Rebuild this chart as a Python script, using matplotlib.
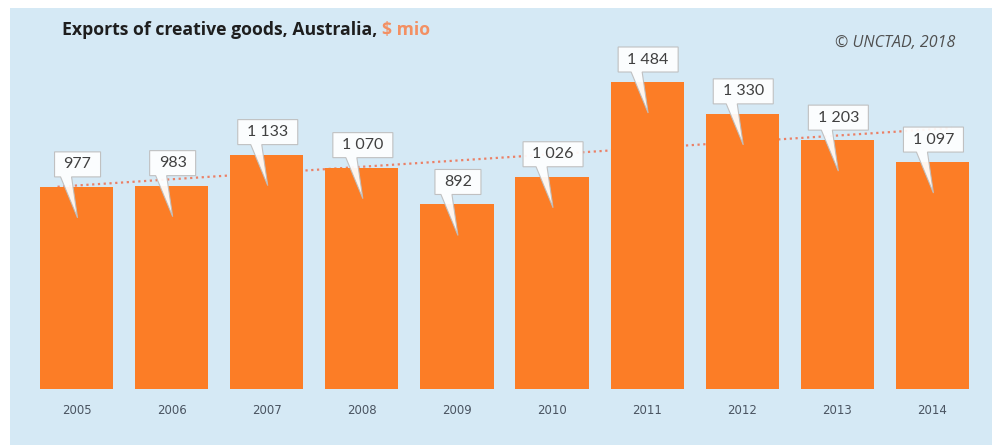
import numpy as np
import matplotlib
matplotlib.use("Agg")
import matplotlib.pyplot as plt
import matplotlib.transforms as mtransforms
from matplotlib.patches import Polygon, Rectangle

# Exports of creative goods, Australia ($ million)
years = ["2005", "2006", "2007", "2008", "2009",
         "2010", "2011", "2012", "2013", "2014"]
exports = [977, 983, 1133, 1070, 892, 1026, 1484, 1330, 1203, 1097]

BAR_COLOR = "#FC7D26"
PANEL_COLOR = "#D5E9F5"
TREND_COLOR = "#EB8066"

W, H = 999, 445
fig = plt.figure(figsize=(W / 100, H / 100), dpi=100)
fig.patch.set_facecolor("white")

# light blue backdrop panel
fig.patches.append(Rectangle((10 / W, 0), 982 / W, (H - 8) / H,
                             transform=fig.transFigure, facecolor=PANEL_COLOR,
                             edgecolor="none", zorder=-5))

ax_left, ax_right = 29 / W, 980 / W
ax_bottom = (H - 389) / H
ymax = 1650
ax_height = ymax * (307 / 1484) / H
ax = fig.add_axes([ax_left, ax_bottom, ax_right - ax_left, ax_height])
ax.set_zorder(2)
ax.set_facecolor("none")
ax.set_xlim(-0.5, len(years) - 0.5)
ax.set_ylim(0, ymax)
for s in ax.spines.values():
    s.set_visible(False)
ax.set_yticks([])
x = np.arange(len(years))
ax.set_xticks(x)
ax.set_xticklabels(years, fontsize=8.5, color="#4A5461", family="DejaVu Sans")
ax.tick_params(axis="x", length=0, pad=11)

# linear trend, drawn behind the bars
coef = np.polyfit(x, exports, 1)
tx = np.array([-0.2, len(years) - 1 + 0.2])
ax.plot(tx, np.polyval(coef, tx), color=TREND_COLOR, lw=1.6,
        ls=(0, (1, 1.6)), zorder=1)

ax.bar(x, exports, width=0.77, color=BAR_COLOR, zorder=2)

# callout labels (shapes defined in pixels relative to each bar top)
for xi, v in zip(x, exports):
    label = f"{v:,}".replace(",", " ")
    half = 23 if len(label) <= 3 else 30
    cx = 1
    bot, top = 10, 35
    pts = [(cx - half, bot), (cx - half, top), (cx + half, top),
           (cx + half, bot), (-5, bot), (1, -31), (-16, bot)]
    pts = [(px / 100, py / 100) for px, py in pts]
    tr = fig.dpi_scale_trans + mtransforms.ScaledTranslation(xi, v, ax.transData)
    ax.add_patch(Polygon(pts, closed=True, transform=tr, facecolor="white",
                         edgecolor="#BDBDBD", lw=0.8, alpha=0.93,
                         zorder=3, clip_on=False))
    ttr = mtransforms.offset_copy(ax.transData, fig=fig, x=cx, y=(bot + top) / 2,
                                  units="dots")
    ax.text(xi, v, label, transform=ttr, ha="center", va="center",
            fontsize=11.5, color="#404040", family="Lato", zorder=4)

# title in two colours
t1 = fig.text(62 / W, 1 - 30 / H, "Exports of creative goods, Australia, ",
              fontsize=12.7, fontweight="bold", family="Open Sans", color="#1E1E1E",
              ha="left", va="center")
fig.canvas.draw()
bb = t1.get_window_extent()
fig.text(bb.x1 / W, 1 - 30 / H, r"\$ mio", ha="left", va="center",
         fontsize=12.7, fontweight="bold", family="Open Sans", color="#F39063")

fig.text(955 / W, 1 - 43 / H, "© UNCTAD, 2018", fontsize=11.5, style="italic",
         family="Open Sans", color="#505050", ha="right", va="center")

fig.savefig("out.png", dpi=100, facecolor=fig.get_facecolor())
